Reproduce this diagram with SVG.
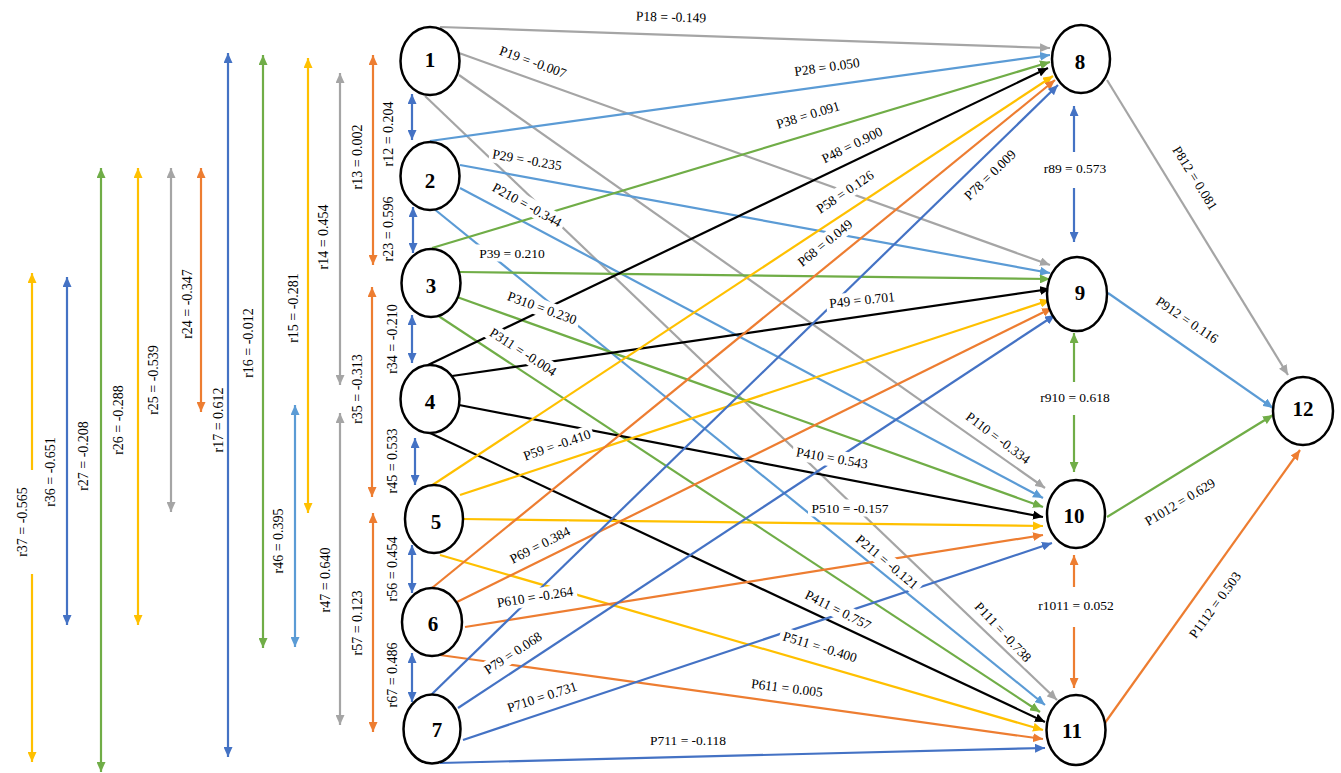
<svg xmlns="http://www.w3.org/2000/svg" width="1341" height="773" viewBox="0 0 1341 773">
<defs>
<marker id="mg" viewBox="0 0 10 9" refX="10" refY="4.5" markerWidth="10" markerHeight="9" markerUnits="userSpaceOnUse" orient="auto-start-reverse"><path d="M0,0L10,4.5L0,9z" fill="#A5A5A5"/></marker>
<marker id="ml" viewBox="0 0 10 9" refX="10" refY="4.5" markerWidth="10" markerHeight="9" markerUnits="userSpaceOnUse" orient="auto-start-reverse"><path d="M0,0L10,4.5L0,9z" fill="#5B9BD5"/></marker>
<marker id="mn" viewBox="0 0 10 9" refX="10" refY="4.5" markerWidth="10" markerHeight="9" markerUnits="userSpaceOnUse" orient="auto-start-reverse"><path d="M0,0L10,4.5L0,9z" fill="#70AD47"/></marker>
<marker id="mk" viewBox="0 0 10 9" refX="10" refY="4.5" markerWidth="10" markerHeight="9" markerUnits="userSpaceOnUse" orient="auto-start-reverse"><path d="M0,0L10,4.5L0,9z" fill="#000000"/></marker>
<marker id="my" viewBox="0 0 10 9" refX="10" refY="4.5" markerWidth="10" markerHeight="9" markerUnits="userSpaceOnUse" orient="auto-start-reverse"><path d="M0,0L10,4.5L0,9z" fill="#FFC000"/></marker>
<marker id="mo" viewBox="0 0 10 9" refX="10" refY="4.5" markerWidth="10" markerHeight="9" markerUnits="userSpaceOnUse" orient="auto-start-reverse"><path d="M0,0L10,4.5L0,9z" fill="#ED7D31"/></marker>
<marker id="md" viewBox="0 0 10 9" refX="10" refY="4.5" markerWidth="10" markerHeight="9" markerUnits="userSpaceOnUse" orient="auto-start-reverse"><path d="M0,0L10,4.5L0,9z" fill="#4472C4"/></marker>
</defs>
<style>
.c path{fill:none;stroke-width:2.2}
.g{stroke:#A5A5A5;marker-end:url(#mg)}
.l{stroke:#5B9BD5;marker-end:url(#ml)}
.n{stroke:#70AD47;marker-end:url(#mn)}
.k{stroke:#000000;marker-end:url(#mk)}
.y{stroke:#FFC000;marker-end:url(#my)}
.o{stroke:#ED7D31;marker-end:url(#mo)}
.d{stroke:#4472C4;marker-end:url(#md)}
.g2{stroke:#A5A5A5;marker-start:url(#mg);marker-end:url(#mg)}
.l2{stroke:#5B9BD5;marker-start:url(#ml);marker-end:url(#ml)}
.n2{stroke:#70AD47;marker-start:url(#mn);marker-end:url(#mn)}
.y2{stroke:#FFC000;marker-start:url(#my);marker-end:url(#my)}
.o2{stroke:#ED7D31;marker-start:url(#mo);marker-end:url(#mo)}
.d2{stroke:#4472C4;marker-start:url(#md);marker-end:url(#md)}
.lb rect{fill:#ffffff}
.lb text{font-family:"Liberation Serif",serif;font-size:13.5px;text-anchor:middle;dominant-baseline:central;fill:#000}
.rl text{font-size:14px}
.nd ellipse{fill:#ffffff;stroke:#000;stroke-width:2.5}
.nd text{font-family:"Liberation Serif",serif;font-size:21px;font-weight:bold;text-anchor:middle;dominant-baseline:central;fill:#000}
</style>
<rect width="1341" height="773" fill="#ffffff"/>
<g id="connectors" class="c">
<!-- left correlation arrows -->
<path class="d2" d="M412,94L412,140"/>
<path class="d2" d="M413,207L413,253"/>
<path class="d2" d="M412,315L412,363"/>
<path class="d2" d="M415,438L415,485"/>
<path class="d2" d="M412,545L412,593"/>
<path class="d2" d="M412,653L412,702"/>
<path class="o2" d="M373,55L373,265"/>
<path class="o2" d="M372,287L372,497"/>
<path class="o2" d="M373,513L373,732"/>
<path class="g2" d="M340,73L340,385"/>
<path class="g2" d="M340,413L340,725"/>
<path class="y2" d="M308,58L308,513"/>
<path class="l2" d="M295,405L295,647"/>
<path class="n2" d="M263,55L263,648"/>
<path class="d2" d="M228,53L228,757"/>
<path class="o2" d="M201,168L201,412"/>
<path class="g2" d="M171,168L171,512"/>
<path class="y2" d="M138,168L138,625"/>
<path class="n2" d="M101,168L101,772"/>
<path class="d2" d="M67,277L67,625"/>
<path class="y2" d="M32,273L32,762"/>
<!-- right correlation arrows -->
<path class="d" d="M1074,152L1074,106"/>
<path class="d" d="M1074,188L1074,242"/>
<path class="n" d="M1074,382L1074,333"/>
<path class="n" d="M1074,415L1074,472"/>
<path class="o" d="M1074,587L1074,555"/>
<path class="o" d="M1074,627L1074,688"/>
<!-- paths gray (1) -->
<path class="g" d="M440,27L1050,48"/>
<path class="g" d="M459,53L1050,265"/>
<path class="g" d="M459,75L1045,488"/>
<path class="g" d="M425,96L1057,700"/>
<!-- light blue (2) -->
<path class="l" d="M430,141L1050,55"/>
<path class="l" d="M460,165L1050,273"/>
<path class="l" d="M460,188L1043,498"/>
<path class="l" d="M433,208L1045,705"/>
<!-- green (3) -->
<path class="n" d="M432,248L1050,62"/>
<path class="n" d="M460,272L1050,279"/>
<path class="n" d="M457,297L1043,507"/>
<path class="n" d="M437,315L1040,712"/>
<!-- black (4) -->
<path class="k" d="M428,365L1048,68"/>
<path class="k" d="M452,376L1050,289"/>
<path class="k" d="M459,405L1043,517"/>
<path class="k" d="M430,433L1045,722"/>
<!-- yellow (5) -->
<path class="y" d="M431,486L1053,76"/>
<path class="y" d="M460,495L1050,300"/>
<path class="y" d="M462,519L1043,526"/>
<path class="y" d="M440,555L1043,730"/>
<!-- orange (6) -->
<path class="o" d="M432,588L1055,80"/>
<path class="o" d="M457,602L1052,308"/>
<path class="o" d="M465,627L1043,535"/>
<path class="o" d="M440,655L1043,739"/>
<!-- dark blue (7) -->
<path class="d" d="M432,694L1058,85"/>
<path class="d" d="M458,708L1055,315"/>
<path class="d" d="M463,740L1052,543"/>
<path class="d" d="M440,763L1045,748"/>
<!-- to 12 -->
<path class="g" d="M1107,80L1288,375"/>
<path class="l" d="M1108,293L1273,408"/>
<path class="n" d="M1107,517L1273,415"/>
<path class="o" d="M1102,727L1300,450"/>
</g>
<g id="labels" class="lb">
<g transform="translate(671,17) rotate(1.5)"><rect x="-38" y="-8.5" width="76" height="17"/><text>P18 = -0.149</text></g>
<g transform="translate(533,62) rotate(20)"><rect x="-38" y="-8.5" width="76" height="17"/><text>P19 = -0.007</text></g>
<g transform="translate(827,67) rotate(-8)"><rect x="-36" y="-8.5" width="72" height="17"/><text>P28 = 0.050</text></g>
<g transform="translate(527,160) rotate(10)"><rect x="-38" y="-8.5" width="76" height="17"/><text>P29 = -0.235</text></g>
<g transform="translate(527,205) rotate(29)"><rect x="-42" y="-8.5" width="84" height="17"/><text>P210 = -0.344</text></g>
<g transform="translate(808,115) rotate(-17)"><rect x="-36" y="-8.5" width="72" height="17"/><text>P38 = 0.091</text></g>
<g transform="translate(512,253)"><rect x="-36" y="-8.5" width="72" height="17"/><text>P39 = 0.210</text></g>
<g transform="translate(852,145) rotate(-26)"><rect x="-36" y="-8.5" width="72" height="17"/><text>P48 = 0.900</text></g>
<g transform="translate(845,192) rotate(-34)"><rect x="-36" y="-8.5" width="72" height="17"/><text>P58 = 0.126</text></g>
<g transform="translate(825,243) rotate(-39)"><rect x="-36" y="-8.5" width="72" height="17"/><text>P68 = 0.049</text></g>
<g transform="translate(990,175) rotate(-44)"><rect x="-36" y="-8.5" width="72" height="17"/><text>P78 = 0.009</text></g>
<g transform="translate(542,308) rotate(20)"><rect x="-40" y="-8.5" width="80" height="17"/><text>P310 = 0.230</text></g>
<g transform="translate(523,352) rotate(33)"><rect x="-42" y="-8.5" width="84" height="17"/><text>P311 = -0.004</text></g>
<g transform="translate(862,300) rotate(-6)"><rect x="-36" y="-8.5" width="72" height="17"/><text>P49 = 0.701</text></g>
<g transform="translate(557,445) rotate(-19)"><rect x="-38" y="-8.5" width="76" height="17"/><text>P59 = -0.410</text></g>
<g transform="translate(540,545) rotate(-27)"><rect x="-36" y="-8.5" width="72" height="17"/><text>P69 = 0.384</text></g>
<g transform="translate(535,597) rotate(-9)"><rect x="-42" y="-8.5" width="84" height="17"/><text>P610 = -0.264</text></g>
<g transform="translate(513,653) rotate(-33)"><rect x="-36" y="-8.5" width="72" height="17"/><text>P79 = 0.068</text></g>
<g transform="translate(542,697) rotate(-18)"><rect x="-40" y="-8.5" width="80" height="17"/><text>P710 = 0.731</text></g>
<g transform="translate(688,740)"><rect x="-42" y="-8.5" width="84" height="17"/><text>P711 = -0.118</text></g>
<g transform="translate(832,458) rotate(10)"><rect x="-40" y="-8.5" width="80" height="17"/><text>P410 = 0.543</text></g>
<g transform="translate(998,438) rotate(37)"><rect x="-42" y="-8.5" width="84" height="17"/><text>P110 = -0.334</text></g>
<g transform="translate(850,508)"><rect x="-42" y="-8.5" width="84" height="17"/><text>P510 = -0.157</text></g>
<g transform="translate(887,562) rotate(40)"><rect x="-42" y="-8.5" width="84" height="17"/><text>P211 = -0.121</text></g>
<g transform="translate(838,610) rotate(27)"><rect x="-40" y="-8.5" width="80" height="17"/><text>P411 = 0.757</text></g>
<g transform="translate(820,647) rotate(17)"><rect x="-42" y="-8.5" width="84" height="17"/><text>P511 = -0.400</text></g>
<g transform="translate(787,688) rotate(7)"><rect x="-40" y="-8.5" width="80" height="17"/><text>P611 = 0.005</text></g>
<g transform="translate(1003,632) rotate(47)"><rect x="-42" y="-8.5" width="84" height="17"/><text>P111 = -0.738</text></g>
<g transform="translate(1195,178) rotate(58)"><rect x="-40" y="-8.5" width="80" height="17"/><text>P812 = 0.081</text></g>
<g transform="translate(1187,320) rotate(34)"><rect x="-40" y="-8.5" width="80" height="17"/><text>P912 = 0.116</text></g>
<g transform="translate(1180,502) rotate(-31)"><rect x="-43" y="-8.5" width="86" height="17"/><text>P1012 = 0.629</text></g>
<g transform="translate(1215,605) rotate(-54)"><rect x="-43" y="-8.5" width="86" height="17"/><text>P1112 = 0.503</text></g>
<g transform="translate(1075,168)"><text>r89 = 0.573</text></g>
<g transform="translate(1075,397)"><text>r910 = 0.618</text></g>
<g transform="translate(1076,605)"><text>r1011 = 0.052</text></g>
<g class="rl">
<g transform="translate(388,134) rotate(-90)"><text>r12 = 0.204</text></g>
<g transform="translate(388,229) rotate(-90)"><text>r23 = 0.596</text></g>
<g transform="translate(392,339) rotate(-90)"><text>r34 = -0.210</text></g>
<g transform="translate(392,461) rotate(-90)"><text>r45 = 0.533</text></g>
<g transform="translate(392,569) rotate(-90)"><text>r56 = 0.454</text></g>
<g transform="translate(392,675) rotate(-90)"><text>r67 = 0.486</text></g>
<g transform="translate(357,157) rotate(-90)"><text>r13 = 0.002</text></g>
<g transform="translate(357,389) rotate(-90)"><text>r35 = -0.313</text></g>
<g transform="translate(357,623) rotate(-90)"><text>r57 = 0.123</text></g>
<g transform="translate(323,237) rotate(-90)"><text>r14 = 0.454</text></g>
<g transform="translate(325,580) rotate(-90)"><text>r47 = 0.640</text></g>
<g transform="translate(293,308) rotate(-90)"><text>r15 = -0.281</text></g>
<g transform="translate(278,541) rotate(-90)"><text>r46 = 0.395</text></g>
<g transform="translate(248,343) rotate(-90)"><text>r16 = -0.012</text></g>
<g transform="translate(218,420) rotate(-90)"><text>r17 = 0.612</text></g>
<g transform="translate(187,304) rotate(-90)"><text>r24 = -0.347</text></g>
<g transform="translate(153,380) rotate(-90)"><text>r25 = -0.539</text></g>
<g transform="translate(118,420) rotate(-90)"><text>r26 = -0.288</text></g>
<g transform="translate(83,456) rotate(-90)"><text>r27 = -0.208</text></g>
<g transform="translate(50,472) rotate(-90)"><text>r36 = -0.651</text></g>
<g transform="translate(22,522) rotate(-90)"><rect x="-52" y="-13" width="104" height="26"/><text>r37 = -0.565</text></g>
</g>
</g>
<g id="node1" class="nd"><ellipse cx="430" cy="61" rx="29.5" ry="34"/><text x="430" y="60">1</text></g>
<g id="node2" class="nd"><ellipse cx="430" cy="176" rx="29.5" ry="34"/><text x="430" y="181">2</text></g>
<g id="node3" class="nd"><ellipse cx="431" cy="283" rx="29.5" ry="34"/><text x="431" y="286">3</text></g>
<g id="node4" class="nd"><ellipse cx="430" cy="399" rx="29.5" ry="34"/><text x="430" y="402">4</text></g>
<g id="node5" class="nd"><ellipse cx="434" cy="519" rx="29" ry="34"/><text x="436" y="522">5</text></g>
<g id="node6" class="nd"><ellipse cx="432" cy="622" rx="30" ry="34"/><text x="433" y="624">6</text></g>
<g id="node7" class="nd"><ellipse cx="432" cy="729" rx="28.5" ry="34.5"/><text x="437" y="730">7</text></g>
<g id="node8" class="nd"><ellipse cx="1081" cy="59" rx="29" ry="34"/><text x="1080" y="62">8</text></g>
<g id="node9" class="nd"><ellipse cx="1077" cy="294" rx="30" ry="37"/><text x="1080" y="293">9</text></g>
<g id="node10" class="nd"><ellipse cx="1076" cy="514" rx="29" ry="34"/><text x="1074" y="516">10</text></g>
<g id="node11" class="nd"><ellipse cx="1076" cy="730" rx="29.5" ry="35"/><text x="1072" y="731">11</text></g>
<g id="node12" class="nd"><ellipse cx="1303" cy="411" rx="30" ry="34"/><text x="1303" y="409">12</text></g>
</svg>
